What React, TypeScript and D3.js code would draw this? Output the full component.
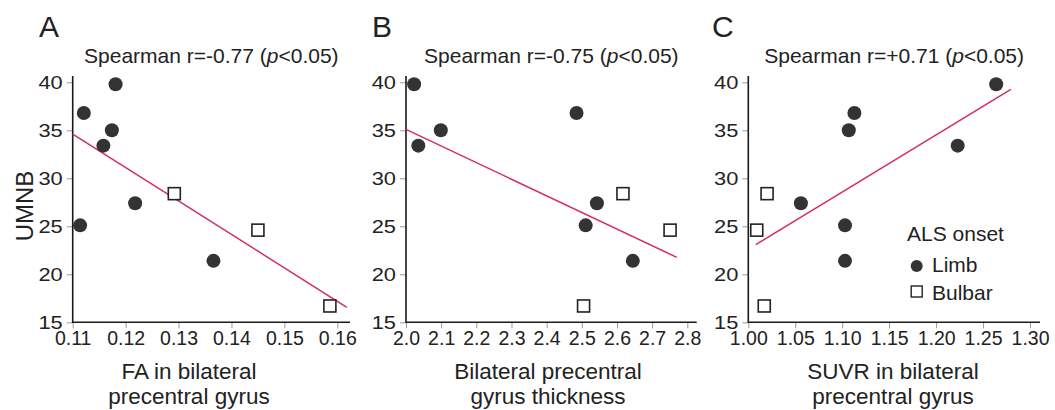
import React, { useEffect, useRef } from 'react';
import * as d3 from 'd3';

// UMNB scores, same patients in every panel
const umnbLimb = [39.8, 36.8, 35.0, 33.4, 27.4, 25.1, 21.4];
const umnbBulbar = [28.4, 24.6, 16.7];
const umnbTicks = [15, 20, 25, 30, 35, 40];

// A: FA in bilateral precentral gyrus
const faLimb = [0.1181, 0.1121, 0.1174, 0.1158, 0.1218, 0.1114, 0.1366];
const faBulbar = [0.1292, 0.145, 0.1586];
const faTicks = [0.11, 0.12, 0.13, 0.14, 0.15, 0.16];
const faFit = [[0.11, 34.6], [0.1618, 16.56]];

// B: bilateral precentral gyrus thickness
const thickLimb = [2.023, 2.485, 2.099, 2.035, 2.543, 2.511, 2.645];
const thickBulbar = [2.617, 2.751, 2.505];
const thickTicks = [2.0, 2.1, 2.2, 2.3, 2.4, 2.5, 2.6, 2.7, 2.8];
const thickFit = [[2.0, 35.1], [2.77, 21.77]];

// C: SUVR in bilateral precentral gyrus
const suvrLimb = [1.264, 1.113, 1.107, 1.223, 1.056, 1.103, 1.103];
const suvrBulbar = [1.02, 1.009, 1.017];
const suvrTicks = [1.0, 1.05, 1.1, 1.15, 1.2, 1.25, 1.3];
const suvrFit = [[1.008, 23.1], [1.2796, 39.27]];

const rValues = ['-0.77', '-0.75', '+0.71'];
const panelLetters = ['A', 'B', 'C'];
const xLabels = [
  ['FA in bilateral', 'precentral gyrus'],
  ['Bilateral precentral', 'gyrus thickness'],
  ['SUVR in bilateral', 'precentral gyrus'],
];

const FONT = '"Liberation Sans", Arial, Helvetica, sans-serif';
const LINE_COLOR = '#d42e5c';
const DOT_COLOR = '#333';

export default function App() {
  const svgRef = useRef<SVGSVGElement>(null);

  useEffect(() => {
    if (!svgRef.current) return;
    const svg = d3.select(svgRef.current);
    svg.selectAll('*').remove();

    const width = 1055;
    const height = 410;
    const yTop = 82.3;
    const yBottom = 322.3;

    svg.append('rect').attr('width', width).attr('height', height).attr('fill', '#fff');

    // shared y scale
    const yScale = d3.scaleLinear().domain([15, 40]).range([yBottom, yTop]);
    const yAxisTop = 76;

    const panels = [
      { limb: faLimb, bulbar: faBulbar, ticks: faTicks, fit: faFit, fmt: '.2f',
        x0: 72.7, x1: 337.3, xEnd: 350, letterX: 39, labelX: 189 },
      { limb: thickLimb, bulbar: thickBulbar, ticks: thickTicks, fit: thickFit, fmt: '.1f',
        x0: 406, x1: 687.3, xEnd: 696.7, letterX: 372, labelX: 548 },
      { limb: suvrLimb, bulbar: suvrBulbar, ticks: suvrTicks, fit: suvrFit, fmt: '.2f',
        x0: 748.3, x1: 1030, xEnd: 1040, letterX: 712, labelX: 893 },
    ];

    panels.forEach((p, i) => {
      const g = svg.append('g');
      const xScale = d3.scaleLinear()
        .domain([p.ticks[0], p.ticks[p.ticks.length - 1]])
        .range([p.x0, p.x1]);

      // x axis
      const xAxis = g.append('g')
        .attr('transform', `translate(0,${yBottom})`)
        .call(d3.axisBottom(xScale).tickValues(p.ticks).tickFormat(d3.format(p.fmt)).tickSize(6).tickPadding(3));
      xAxis.select('.domain').remove();
      xAxis.selectAll('line').attr('stroke', '#9a9a9a').attr('stroke-width', 1);
      xAxis.selectAll('text')
        .attr('fill', '#222')
        .style('font-family', FONT)
        .style('font-size', '19.5px');

      // y axis
      const yAxis = g.append('g')
        .attr('transform', `translate(${p.x0},0)`)
        .call(d3.axisLeft(yScale).tickValues(umnbTicks).tickSize(6).tickPadding(4));
      yAxis.select('.domain').remove();
      yAxis.selectAll('line').attr('stroke', '#9a9a9a').attr('stroke-width', 1);
      yAxis.selectAll('text')
        .attr('fill', '#222')
        .style('font-family', FONT)
        .style('font-size', '18.5px')
        .style('transform-box', 'fill-box')
        .style('transform-origin', 'right center')
        .style('transform', 'scaleX(1.18)');

      // axis lines
      g.append('path')
        .attr('d', `M${p.x0},${yAxisTop}V${yBottom}H${p.xEnd}`)
        .attr('fill', 'none')
        .attr('stroke', '#1a1a1a')
        .attr('stroke-width', 1.6);

      // fit line
      g.append('line')
        .attr('x1', xScale(p.fit[0][0]))
        .attr('y1', yScale(p.fit[0][1]))
        .attr('x2', xScale(p.fit[1][0]))
        .attr('y2', yScale(p.fit[1][1]))
        .attr('stroke', LINE_COLOR)
        .attr('stroke-width', 1.5);

      // limb onset
      g.selectAll('.limb')
        .data(p.limb.map((x, k) => [x, umnbLimb[k]]))
        .enter()
        .append('circle')
        .attr('cx', d => xScale(d[0]))
        .attr('cy', d => yScale(d[1]))
        .attr('r', 7)
        .attr('fill', DOT_COLOR);

      // bulbar onset
      const s = 12;
      g.selectAll('.bulbar')
        .data(p.bulbar.map((x, k) => [x, umnbBulbar[k]]))
        .enter()
        .append('rect')
        .attr('x', d => xScale(d[0]) - s / 2)
        .attr('y', d => yScale(d[1]) - s / 2)
        .attr('width', s)
        .attr('height', s)
        .attr('fill', '#fff')
        .attr('stroke', '#222')
        .attr('stroke-width', 1.6);

      // title
      const title = g.append('text')
        .attr('x', (p.x0 + p.xEnd) / 2)
        .attr('y', 63)
        .attr('text-anchor', 'middle')
        .attr('fill', '#222')
        .style('font-family', FONT)
        .style('font-size', '21px');
      title.append('tspan').text(`Spearman r=${rValues[i]} (`);
      title.append('tspan').style('font-style', 'italic').text('p');
      title.append('tspan').text('<0.05)');

      // panel letter
      g.append('text')
        .attr('x', p.letterX)
        .attr('y', 37)
        .attr('fill', '#222')
        .style('font-family', FONT)
        .style('font-size', '30px')
        .text(panelLetters[i]);

      // x label
      xLabels[i].forEach((line, k) => {
        g.append('text')
          .attr('x', p.labelX)
          .attr('y', 379 + k * 25)
          .attr('text-anchor', 'middle')
          .attr('fill', '#222')
          .style('font-family', FONT)
          .style('font-size', '22.5px')
          .text(line);
      });
    });

    // y label
    svg.append('text')
      .attr('transform', 'translate(33,206) rotate(-90)')
      .attr('text-anchor', 'middle')
      .attr('fill', '#222')
      .style('font-family', FONT)
      .style('font-size', '24px')
      .text('UMNB');

    // legend
    const legend = svg.append('g');
    legend.append('text')
      .attr('x', 907)
      .attr('y', 241)
      .attr('fill', '#222')
      .style('font-family', FONT)
      .style('font-size', '21px')
      .text('ALS onset');
    legend.append('circle')
      .attr('cx', 916.7)
      .attr('cy', 266)
      .attr('r', 6)
      .attr('fill', DOT_COLOR);
    legend.append('rect')
      .attr('x', 916.7 - 5.5)
      .attr('y', 291.5 - 5.5)
      .attr('width', 11)
      .attr('height', 11)
      .attr('fill', '#fff')
      .attr('stroke', '#222')
      .attr('stroke-width', 1.4);
    ['Limb', 'Bulbar'].forEach((t, k) => {
      legend.append('text')
        .attr('x', 932)
        .attr('y', 272 + k * 27.5)
        .attr('fill', '#222')
        .style('font-family', FONT)
        .style('font-size', '21px')
        .text(t);
    });
  }, []);

  return (
    <svg
      ref={svgRef}
      width={1055}
      height={410}
      style={{ position: 'absolute', left: 0, top: 0 }}
    ></svg>
  );
}
